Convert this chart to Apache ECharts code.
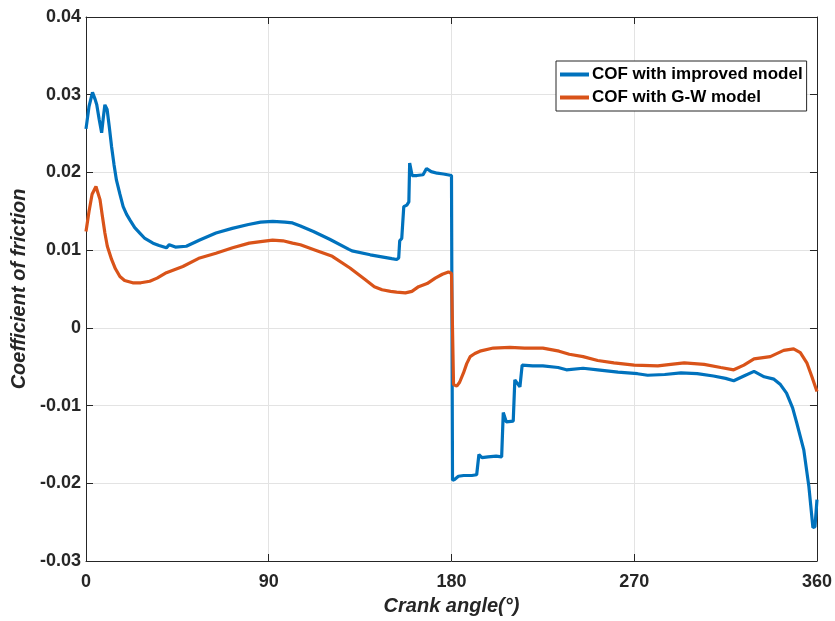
<!DOCTYPE html>
<html>
<head>
<meta charset="utf-8">
<script src="https://cdn.jsdelivr.net/npm/echarts@6/dist/echarts.min.js"></script>
<style>
html,body{margin:0;padding:0;background:#fff;}
#chart{width:835px;height:621px;}
</style>
</head>
<body>
<div id="chart"></div>
<script>
// ---- Data ----
const seriesNames = ['COF with improved model', 'COF with G-W model'];
const xTicks = [0, 90, 180, 270, 360];
const yTicks = [-0.03, -0.02, -0.01, 0, 0.01, 0.02, 0.03, 0.04];

const improvedAngle = [0, 1.5, 3.2, 4.5, 5.3, 6.5, 7.7, 8.5, 9.3, 10.4, 11.5, 12.6, 13.8, 15, 16.7, 18.3, 20, 21.6, 24, 26.5, 29, 33, 36, 39.6, 41, 42, 44, 49.4, 56, 64, 72, 80, 86, 92, 98, 101.7, 105.6, 112, 120, 129.5, 131, 140, 150.6, 153, 154, 154.5, 155.5, 156, 156.5, 158, 159, 159.4, 160, 160.6, 163, 166, 167.7, 170, 173, 176, 178, 180, 180.5, 181.5, 183.4, 186, 190, 192.4, 193.5, 195, 198, 202, 204.7, 205.5, 207, 210.4, 211.2, 213.7, 214.8, 220, 225, 232.5, 236.6, 244.8, 252, 262, 271.6, 276.6, 285, 293, 301, 309, 315, 319, 324, 329, 334, 338.8, 342, 345, 348, 350, 353.5, 356, 358, 359, 360];
const improvedCOF = [0.0256, 0.0285, 0.0303, 0.0294, 0.0287, 0.0268, 0.0251, 0.0270, 0.0287, 0.0281, 0.0258, 0.0233, 0.0210, 0.0190, 0.0172, 0.0156, 0.0146, 0.0139, 0.0129, 0.0122, 0.0115, 0.0109, 0.0106, 0.0103, 0.0107, 0.0106, 0.0104, 0.0105, 0.0113, 0.0122, 0.0128, 0.0133, 0.0136, 0.0137, 0.0136, 0.0135, 0.0131, 0.0124, 0.0114, 0.0101, 0.0099, 0.0094, 0.0089, 0.0088, 0.0090, 0.0112, 0.0115, 0.0113, 0.0156, 0.0158, 0.0162, 0.0212, 0.0210, 0.0196, 0.0196, 0.0197, 0.0205, 0.0201, 0.0199, 0.0198, 0.0197, 0.0196, -0.0196, -0.0195, -0.0191, -0.0190, -0.0190, -0.0189, -0.0163, -0.0167, -0.0166, -0.0165, -0.0166, -0.0109, -0.0121, -0.0120, -0.0067, -0.0076, -0.0048, -0.0049, -0.0049, -0.0051, -0.0054, -0.0052, -0.0054, -0.0057, -0.0059, -0.0061, -0.0060, -0.0058, -0.0059, -0.0062, -0.0065, -0.0068, -0.0062, -0.0056, -0.0063, -0.0066, -0.0073, -0.0084, -0.0103, -0.0122, -0.0157, -0.0204, -0.0257, -0.0256, -0.0221];

const gwAngle = [0, 1.5, 3, 4.9, 5.8, 6.9, 8, 9.3, 10.5, 12.6, 14.5, 16.7, 19, 23, 27, 31.4, 35, 39.6, 47.7, 56, 64, 72.2, 80.4, 86, 91.9, 97, 101.7, 105.6, 113, 121.3, 130, 137.6, 142, 145.8, 150, 153, 157.3, 160.5, 163.8, 168, 172, 175.5, 178.5, 180, 181, 182.6, 184, 185.9, 187.5, 189.2, 191.5, 194, 200.6, 208.8, 216, 225, 233, 238, 244.8, 252, 260, 270, 281.6, 288, 294.6, 304.4, 312.6, 319, 324, 329, 337, 343.6, 348.5, 351.8, 355, 357.5, 360];
const gwCOF = [0.0124, 0.0150, 0.0172, 0.0182, 0.0180, 0.0165, 0.0145, 0.0122, 0.0105, 0.0088, 0.0076, 0.0066, 0.0061, 0.0058, 0.0058, 0.0060, 0.0064, 0.0071, 0.0079, 0.0090, 0.0096, 0.0103, 0.0109, 0.0111, 0.0113, 0.0112, 0.0109, 0.0107, 0.0100, 0.0092, 0.0077, 0.0062, 0.0053, 0.0049, 0.0047, 0.0046, 0.0045, 0.0047, 0.0053, 0.0057, 0.0064, 0.0069, 0.0072, 0.0070, -0.0073, -0.0075, -0.0070, -0.0058, -0.0046, -0.0037, -0.0033, -0.0030, -0.0026, -0.0025, -0.0026, -0.0026, -0.0030, -0.0034, -0.0037, -0.0042, -0.0045, -0.0048, -0.0049, -0.0047, -0.0045, -0.0047, -0.0051, -0.0054, -0.0048, -0.0040, -0.0037, -0.0029, -0.0027, -0.0032, -0.0045, -0.0063, -0.0082];

// ---- Chart ----
const FONT = '"Liberation Sans", Arial, Helvetica, sans-serif';
const AX = '#262626';
const pairs = (xs, ys) => xs.map((x, i) => [x, ys[i]]);
const yFmt = v => Math.abs(v) < 1e-9 ? '0' : v.toFixed(2);

const chart = echarts.init(document.getElementById('chart'), null, {renderer: 'canvas'});
const tickStyle = {show: true, inside: true, length: 7, lineStyle: {color: AX, width: 1}};
const lineStyleAx = {show: true, onZero: false, lineStyle: {color: AX, width: 1}};

chart.setOption({
  backgroundColor: '#ffffff',
  animation: false,
  grid: {left: 86, top: 17, right: 14, bottom: 60, containLabel: false},
  legend: {
    data: seriesNames,
    orient: 'vertical',
    left: 556,
    top: 61,
    backgroundColor: '#ffffff',
    borderColor: AX,
    borderWidth: 1,
    borderRadius: 0,
    padding: [5, 4, 5, 4],
    itemWidth: 29,
    itemHeight: 4,
    itemGap: 6,
    icon: 'rect',
    textStyle: {fontFamily: FONT, fontWeight: 'bold', fontSize: 17, color: '#000', padding: [0, 0, 0, -2]}
  },
  xAxis: [{
    type: 'value', min: xTicks[0], max: xTicks[xTicks.length - 1], interval: 90,
    position: 'bottom',
    name: 'Crank angle(°)', nameLocation: 'middle', nameGap: 35,
    nameTextStyle: {fontFamily: FONT, fontWeight: 'bold', fontStyle: 'italic', fontSize: 20, color: AX},
    axisLine: lineStyleAx, axisTick: tickStyle,
    axisLabel: {fontFamily: FONT, fontWeight: 'bold', fontSize: 18, color: AX, margin: 12},
    splitLine: {show: true, lineStyle: {color: '#e3e3e3', width: 1}}
  }, {
    type: 'value', min: 0, max: 360, interval: 90, position: 'top',
    axisLine: lineStyleAx, axisTick: tickStyle, axisLabel: {show: false}, splitLine: {show: false}
  }],
  yAxis: [{
    type: 'value', min: yTicks[0], max: yTicks[yTicks.length - 1], interval: 0.01,
    position: 'left',
    name: 'Coefficient of friction', nameLocation: 'middle', nameGap: 56,
    nameTextStyle: {fontFamily: FONT, fontWeight: 'bold', fontStyle: 'italic', fontSize: 20, color: AX},
    axisLine: lineStyleAx, axisTick: tickStyle,
    axisLabel: {fontFamily: FONT, fontWeight: 'bold', fontSize: 18, color: AX, margin: 5, formatter: yFmt},
    splitLine: {show: true, lineStyle: {color: '#e3e3e3', width: 1}}
  }, {
    type: 'value', min: -0.03, max: 0.04, interval: 0.01, position: 'right',
    axisLine: lineStyleAx, axisTick: tickStyle, axisLabel: {show: false}, splitLine: {show: false}
  }],
  series: [{
    name: seriesNames[0], type: 'line', data: pairs(improvedAngle, improvedCOF),
    showSymbol: false, symbol: 'none', smooth: false,
    lineStyle: {color: '#0072BD', width: 3.2}, itemStyle: {color: '#0072BD'}
  }, {
    name: seriesNames[1], type: 'line', data: pairs(gwAngle, gwCOF),
    showSymbol: false, symbol: 'none', smooth: false,
    lineStyle: {color: '#D95319', width: 3.2}, itemStyle: {color: '#D95319'}
  }]
});
</script>
</body>
</html>
